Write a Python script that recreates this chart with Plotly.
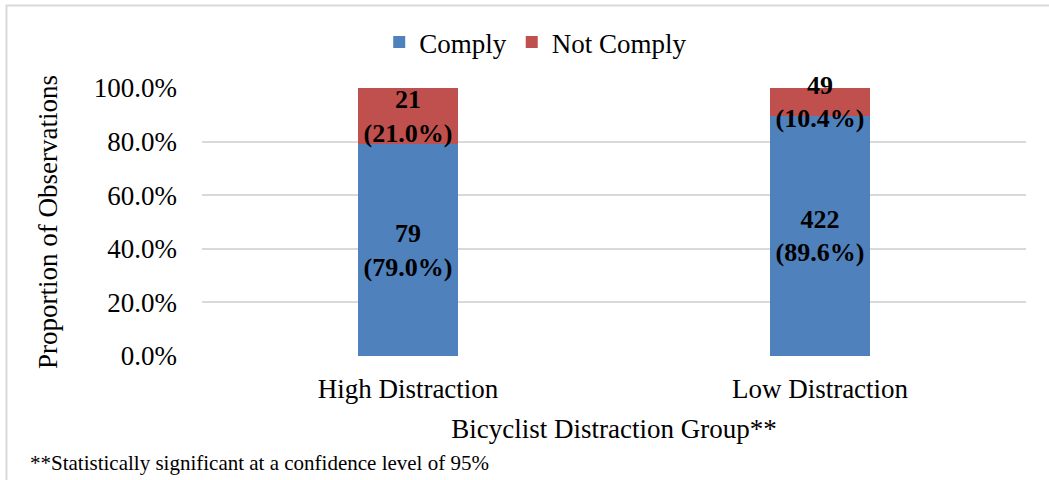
import plotly.graph_objects as go

# Observation counts per bicyclist distraction group
groups = ["High Distraction", "Low Distraction"]
comply_counts = [79, 422]
not_comply_counts = [21, 49]

series_names = ["Comply", "Not Comply"]
series_colors = ["#4F81BD", "#C0504D"]

y_tick_values = [0, 20, 40, 60, 80, 100]
y_tick_labels = ["0.0%", "20.0%", "40.0%", "60.0%", "80.0%", "100.0%"]

totals = [c + n for c, n in zip(comply_counts, not_comply_counts)]
comply_pct = [100 * c / t for c, t in zip(comply_counts, totals)]
not_comply_pct = [100 * n / t for n, t in zip(not_comply_counts, totals)]

FONT = "Liberation Serif, Times New Roman, serif"

fig = go.Figure()
for name, counts, pct, color in [
    (series_names[0], comply_counts, comply_pct, series_colors[0]),
    (series_names[1], not_comply_counts, not_comply_pct, series_colors[1]),
]:
    fig.add_trace(go.Bar(
        name=name,
        x=groups,
        y=pct,
        customdata=counts,
        marker=dict(color=color, line=dict(width=0)),
        texttemplate="<b>%{customdata}</b><br><b>(%{y:.1f}%)</b>",
        textposition="inside",
        insidetextanchor="middle",
        constraintext="none",
        textfont=dict(family=FONT, size=26, color="black"),
        cliponaxis=False,
    ))

fig.update_layout(
    barmode="stack",
    bargap=0.757,
    width=1049,
    height=480,
    margin=dict(l=202, r=23, t=88, b=124),
    paper_bgcolor="white",
    plot_bgcolor="white",
    font=dict(family=FONT, size=27, color="black"),
    uniformtext=dict(minsize=26, mode="show"),
    legend=dict(
        orientation="h",
        x=0.405, xanchor="center",
        y=1.17, yanchor="middle",
        font=dict(family=FONT, size=27),
        itemwidth=30,
        traceorder="normal",
    ),
    xaxis=dict(
        showgrid=False,
        showline=False,
        ticks="",
        ticklabelstandoff=14,
        tickfont=dict(size=27),
        title=dict(text="Bicyclist Distraction Group**", font=dict(size=27), standoff=16),
    ),
    yaxis=dict(
        range=[0, 100],
        tickvals=y_tick_values,
        ticktext=y_tick_labels,
        showgrid=True,
        gridcolor="#D9D9D9",
        gridwidth=2,
        zeroline=False,
        showline=False,
        ticks="",
        ticklabelstandoff=24,
        tickfont=dict(size=27),
        title=dict(text="Proportion of Observations", font=dict(size=27), standoff=28),
    ),
    showlegend=True,
)

# Chart frame (top and left edges)
fig.add_shape(
    type="rect", xref="paper", yref="paper",
    x0=-0.2373, x1=1.1, y0=-0.6, y1=1.308,
    line=dict(color="#D9D9D9", width=2),
    fillcolor="rgba(0,0,0,0)",
    layer="below",
)

fig.add_annotation(
    text="**Statistically significant at a confidence level of 95%",
    xref="paper", yref="paper",
    x=-0.211, y=-0.399,
    xanchor="left", yanchor="middle",
    showarrow=False,
    font=dict(family=FONT, size=21, color="black"),
)

fig.write_html("out.html")
